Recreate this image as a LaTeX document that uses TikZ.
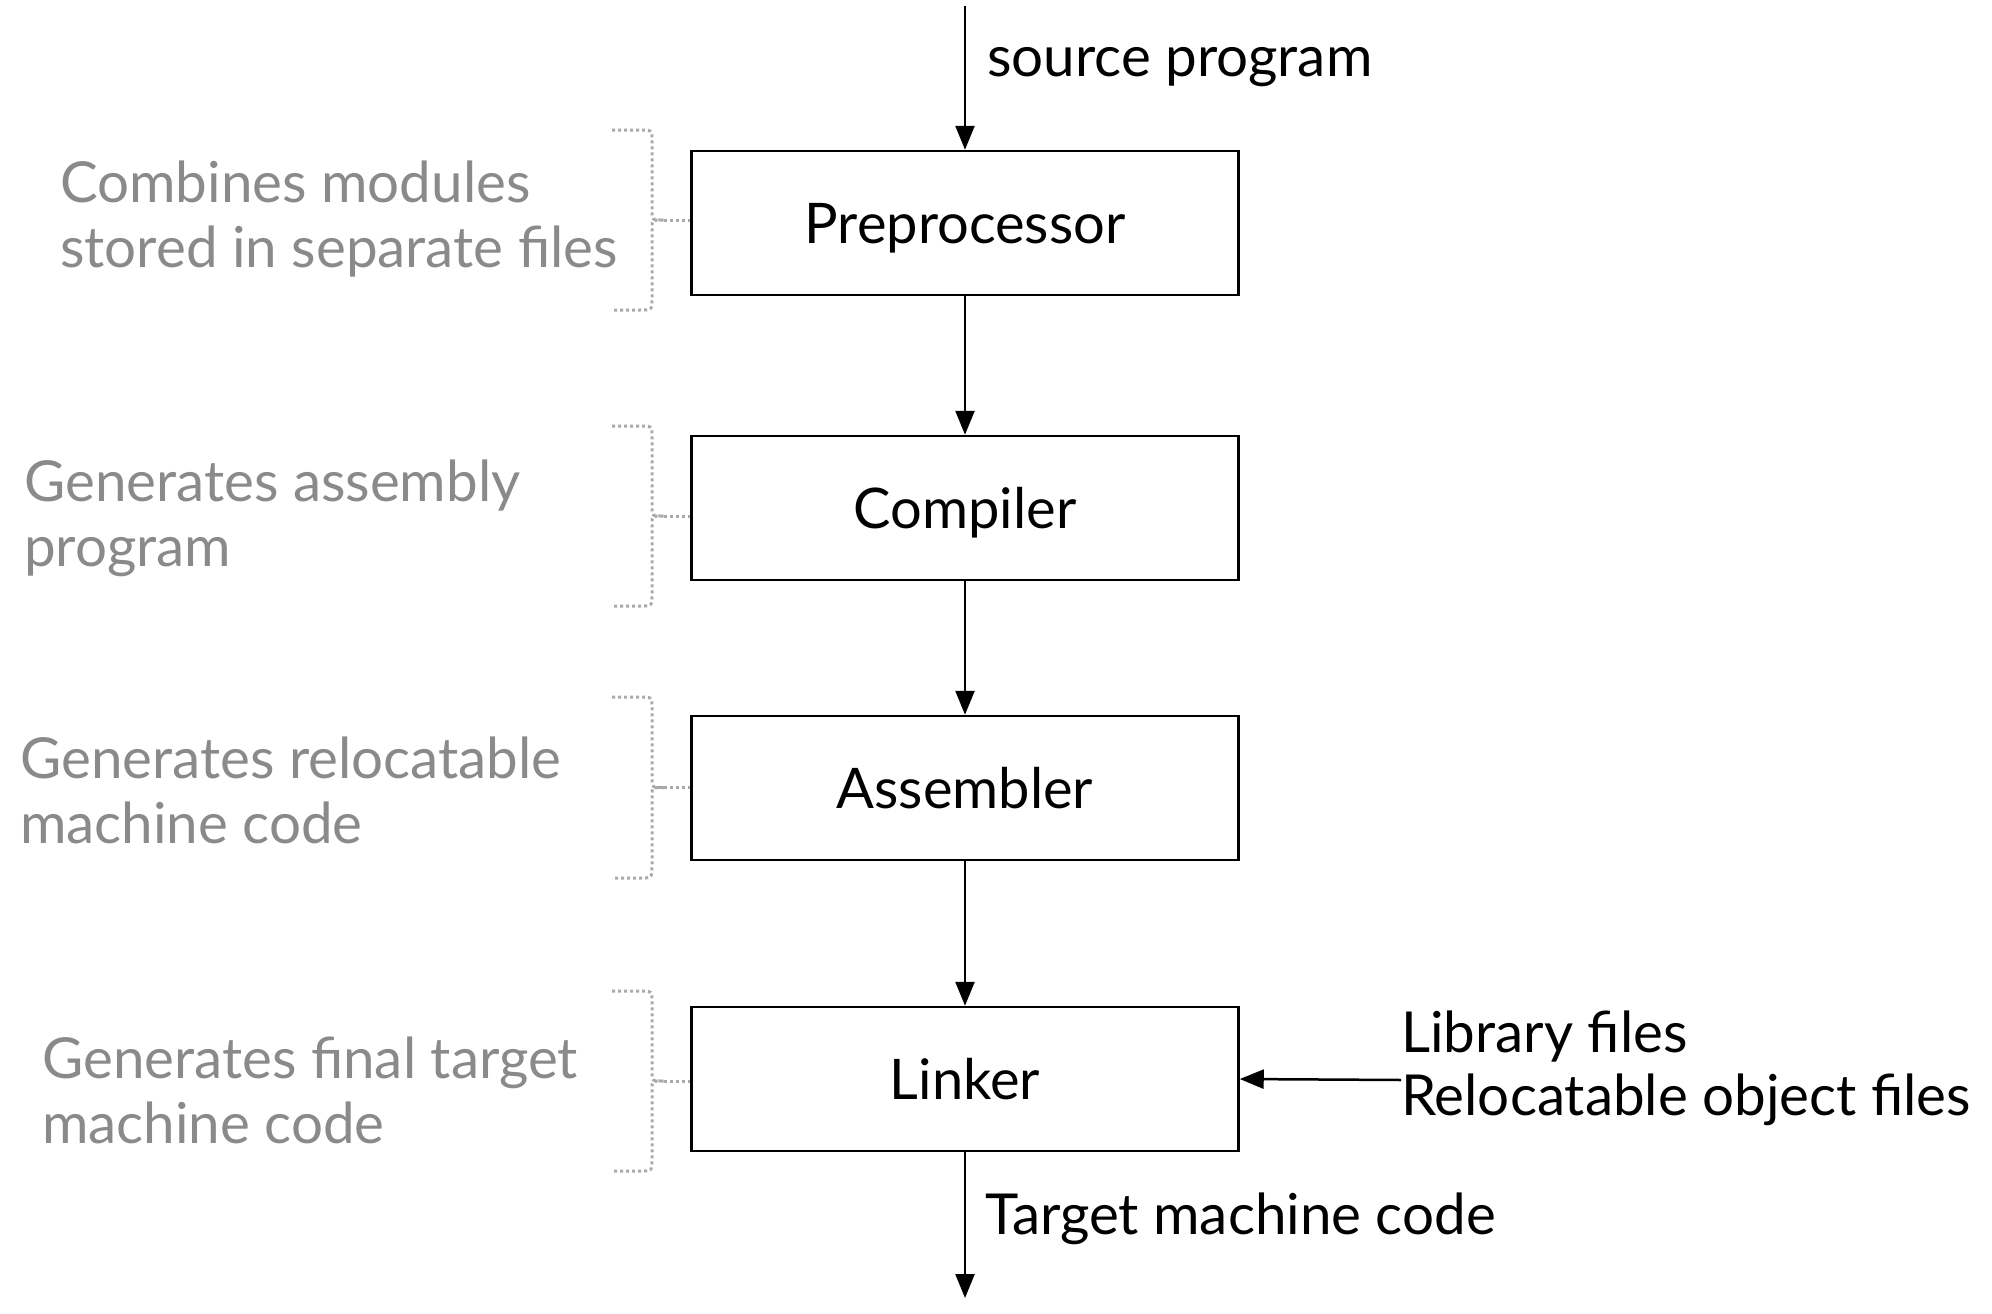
\documentclass[tikz,border=0pt]{standalone}
\usepackage{fontspec}
\setmainfont{Lato}
\usetikzlibrary{arrows.meta}
\definecolor{notegray}{HTML}{8A8A8A}
\definecolor{dotgray}{HTML}{AAAAAA}
\tikzset{
  stagebox/.style={draw=black, line width=2.5pt, minimum width=547pt, minimum height=144pt, inner sep=0pt, text height=44pt, text depth=4pt, font=\fontsize{56}{66}\selectfont},
  flow/.style={line width=2.5pt, -{Triangle[length=24pt,width=19pt]}},
  lbl/.style={anchor=west, inner sep=0pt, font=\fontsize{56.5}{66}\selectfont},
  note/.style={anchor=west, inner sep=0pt, align=left, text=notegray, font=\fontsize{56.5}{65}\selectfont},
  bracepath/.style={draw=dotgray, line width=3pt, dash pattern=on 3pt off 3pt},
}
\begin{document}
\begin{tikzpicture}[x=1pt,y=-1pt]
\useasboundingbox (0,0) rectangle (1992,1314);
% stage boxes
\node[stagebox] (pre) at (965,223) {Preprocessor};
\node[stagebox] (com) at (965,508) {Compiler};
\node[stagebox] (asm) at (965,788) {Assembler};
\node[stagebox] (lnk) at (965,1079) {Linker};
% free ends
\coordinate (src) at (965,6);
\coordinate (out) at (965,1298);
\coordinate (lib) at (1401,1080);
% connectors
\draw[flow] (src) -- (pre.north);
\draw[flow] (pre.south) -- (com.north);
\draw[flow] (com.south) -- (asm.north);
\draw[flow] (asm.south) -- (lnk.north);
\draw[flow] (lnk.south) -- (out);
\draw[flow] (lib) -- (lnk.east);
% labels
\node[lbl] (srclbl) at (987,67) {source program};
\node[lbl] (outlbl) at (985,1219) {Target machine code};
\node[lbl] (liblbl) at (1401,1037) {Library files};
\node[lbl] (objlbl) at (1401,1100) {Relocatable object files};
% notes
\node[note] (n1) at (60,219) {Combines modules\\stored in separate files};
\node[note] (n2) at (24,518) {Generates assembly\\program};
\node[note] (n3) at (20,790) {Generates relocatable\\machine code};
\node[note] (n4) at (42,1090) {Generates final target\\machine code};
% braces
\foreach \t/\b/\nd in {130/310/pre, 426/606/com, 697/878/asm, 991/1171/lnk}{
  \pgfmathsetmacro{\m}{(\t+\b)/2}
  \coordinate (tip) at (664,\m);
  \draw[bracepath] (612,\t) -- (640,\t) .. controls (652,\t) .. (652,\t+12)
     -- (652,\m-8) .. controls (652,\m) .. (tip)
     .. controls (652,\m) .. (652,\m+8) -- (652,\b-12)
     .. controls (652,\b) .. (640,\b) -- (612,\b);
  \draw[bracepath] (tip) -- (\nd.west |- tip);
}
\end{tikzpicture}
\end{document}
